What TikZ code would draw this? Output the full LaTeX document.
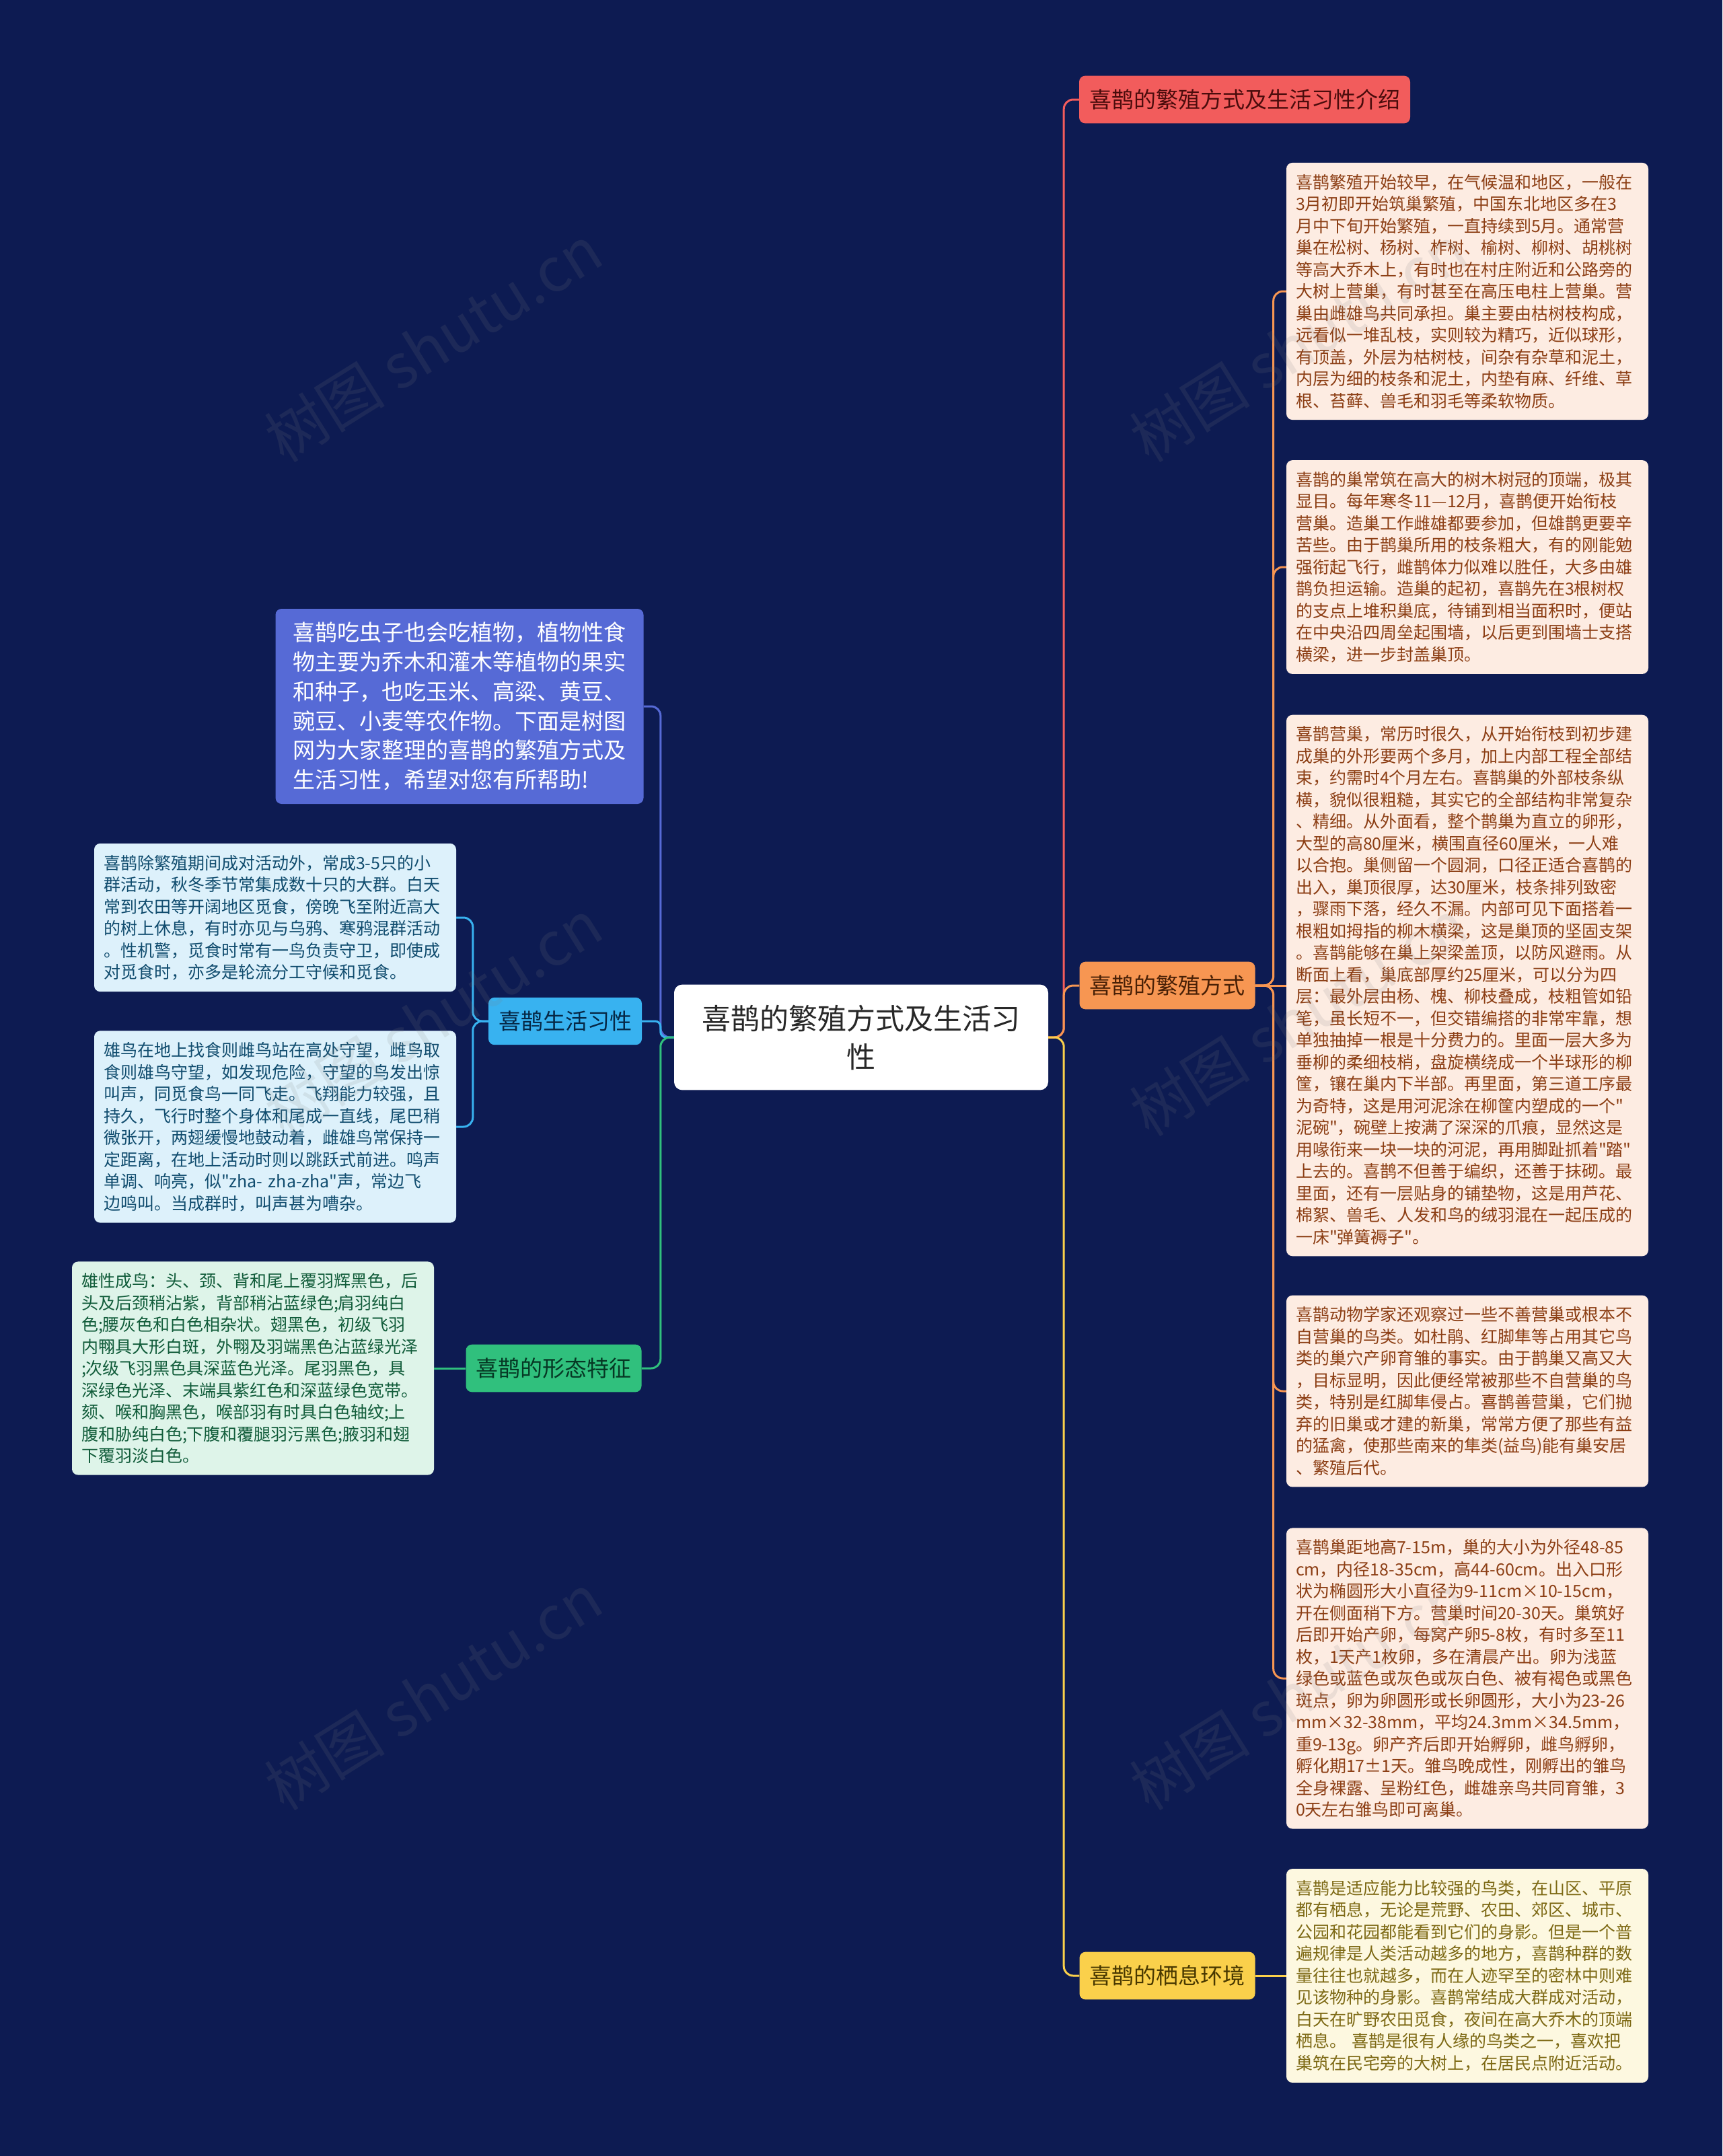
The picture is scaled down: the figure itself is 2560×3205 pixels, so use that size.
\documentclass[tikz,border=0pt]{standalone}
\usepackage{tikz}
\usepackage{fontspec}
\setmainfont{Noto Sans CJK SC}[Ligatures=TeXOff]
\definecolor{bgnavy}{RGB}{13,27,82}
\definecolor{rootink}{RGB}{40,40,40}
\definecolor{cRed}{RGB}{242,92,92}
\definecolor{cRedInk}{RGB}{75,12,12}
\definecolor{cOrange}{RGB}{247,150,82}
\definecolor{cOrangeInk}{RGB}{72,32,6}
\definecolor{cYellow}{RGB}{250,208,75}
\definecolor{cYellowInk}{RGB}{72,56,0}
\definecolor{cSky}{RGB}{56,178,240}
\definecolor{cSkyInk}{RGB}{6,40,70}
\definecolor{cGreen}{RGB}{48,192,125}
\definecolor{cGreenInk}{RGB}{6,56,36}
\definecolor{cIndigo}{RGB}{86,106,214}
\definecolor{breedFill}{RGB}{253,236,226}
\definecolor{breedInk}{RGB}{140,62,20}
\definecolor{habitatFill}{RGB}{253,248,224}
\definecolor{habitatInk}{RGB}{125,105,20}
\definecolor{lifeFill}{RGB}{221,241,251}
\definecolor{lifeInk}{RGB}{16,76,110}
\definecolor{shapeFill}{RGB}{222,244,233}
\definecolor{shapeInk}{RGB}{17,92,58}
\begin{document}
\begin{tikzpicture}[x=1pt, y=-1pt,
  root/.style={fill=white, rounded corners=12pt, align=center, text width=476pt, inner xsep=40pt, inner ysep=30pt, text=rootink, font=\fontsize{43pt}{57pt}\selectfont},
  topic/.style={rounded corners=9pt, inner xsep=15pt, inner ysep=20pt, font=\fontsize{33pt}{40pt}\selectfont},
  note/.style={rounded corners=9pt, align=left, text width=510pt, inner xsep=14pt, inner ysep=17pt, font=\fontsize{25pt}{32.5pt}\selectfont},
  link/.style={line width=3pt, rounded corners=14pt},
  wm/.style={text=gray, opacity=0.14, rotate=32, font=\fontsize{90pt}{90pt}\selectfont}
]
\fill[bgnavy] (0,0) rectangle (2560,3205);

\node[root] (root) at (1280,1542) {喜鹊的繁殖方式及生活习\\性};

\node[topic, fill=cRed, text=cRedInk] (intro) at (1850,148) {喜鹊的繁殖方式及生活习性介绍};
\node[topic, fill=cOrange, text=cOrangeInk] (breed) at (1735,1465) {喜鹊的繁殖方式};
\node[topic, fill=cYellow, text=cYellowInk] (habitat) at (1735,2937) {喜鹊的栖息环境};
\node[topic, fill=cSky, text=cSkyInk] (life) at (840,1518) {喜鹊生活习性};
\node[topic, fill=cGreen, text=cGreenInk] (shape) at (823,2034) {喜鹊的形态特征};

\node[rounded corners=9pt, fill=cIndigo, text=white, align=left, text width=495pt, inner xsep=26pt, inner ysep=20pt, font=\fontsize{33pt}{43.7pt}\selectfont] (summary) at (683,1050) {喜鹊吃虫子也会吃植物，植物性食\\物主要为乔木和灌木等植物的果实\\和种子，也吃玉米、高粱、黄豆、\\豌豆、小麦等农作物。下面是树图\\网为大家整理的喜鹊的繁殖方式及\\生活习性，希望对您有所帮助!};

\node[note, fill=breedFill, text=breedInk] (breed1) at (2181,433) {喜鹊繁殖开始较早，在气候温和地区，一般在\\3月初即开始筑巢繁殖，中国东北地区多在3\\月中下旬开始繁殖，一直持续到5月。通常营\\巢在松树、杨树、柞树、榆树、柳树、胡桃树\\等高大乔木上，有时也在村庄附近和公路旁的\\大树上营巢，有时甚至在高压电柱上营巢。营\\巢由雌雄鸟共同承担。巢主要由枯树枝构成，\\远看似一堆乱枝，实则较为精巧，近似球形，\\有顶盖，外层为枯树枝，间杂有杂草和泥土，\\内层为细的枝条和泥土，内垫有麻、纤维、草\\根、苔藓、兽毛和羽毛等柔软物质。};
\node[note, fill=breedFill, text=breedInk] (breed2) at (2181,843) {喜鹊的巢常筑在高大的树木树冠的顶端，极其\\显目。每年寒冬11—12月，喜鹊便开始衔枝\\营巢。造巢工作雌雄都要参加，但雄鹊更要辛\\苦些。由于鹊巢所用的枝条粗大，有的刚能勉\\强衔起飞行，雌鹊体力似难以胜任，大多由雄\\鹊负担运输。造巢的起初，喜鹊先在3根树权\\的支点上堆积巢底，待铺到相当面积时，便站\\在中央沿四周垒起围墙，以后更到围墙士支搭\\横梁，进一步封盖巢顶。};
\node[note, fill=breedFill, text=breedInk] (breed3) at (2181,1465) {喜鹊营巢，常历时很久，从开始衔枝到初步建\\成巢的外形要两个多月，加上内部工程全部结\\束，约需时4个月左右。喜鹊巢的外部枝条纵\\横，貌似很粗糙，其实它的全部结构非常复杂\\、精细。从外面看，整个鹊巢为直立的卵形，\\大型的高80厘米，横围直径60厘米，一人难\\以合抱。巢侧留一个圆洞，口径正适合喜鹊的\\出入，巢顶很厚，达30厘米，枝条排列致密\\，骤雨下落，经久不漏。内部可见下面搭着一\\根粗如拇指的柳木横梁，这是巢顶的坚固支架\\。喜鹊能够在巢上架梁盖顶，以防风避雨。从\\断面上看，巢底部厚约25厘米，可以分为四\\层：最外层由杨、槐、柳枝叠成，枝粗管如铅\\笔，虽长短不一，但交错编搭的非常牢靠，想\\单独抽掉一根是十分费力的。里面一层大多为\\垂柳的柔细枝梢，盘旋横绕成一个半球形的柳\\筐，镶在巢内下半部。再里面，第三道工序最\\为奇特，这是用河泥涂在柳筐内塑成的一个"\\泥碗"，碗壁上按满了深深的爪痕，显然这是\\用喙衔来一块一块的河泥，再用脚趾抓着"踏"\\上去的。喜鹊不但善于编织，还善于抹砌。最\\里面，还有一层贴身的铺垫物，这是用芦花、\\棉絮、兽毛、人发和鸟的绒羽混在一起压成的\\一床"弹簧褥子"。};
\node[note, fill=breedFill, text=breedInk] (breed4) at (2181,2068) {喜鹊动物学家还观察过一些不善营巢或根本不\\自营巢的鸟类。如杜鹃、红脚隼等占用其它鸟\\类的巢穴产卵育雏的事实。由于鹊巢又高又大\\，目标显明，因此便经常被那些不自营巢的鸟\\类，特别是红脚隼侵占。喜鹊善营巢，它们抛\\弃的旧巢或才建的新巢，常常方便了那些有益\\的猛禽，使那些南来的隼类(益鸟)能有巢安居\\、繁殖后代。};
\node[note, fill=breedFill, text=breedInk] (breed5) at (2181,2495) {喜鹊巢距地高7-15m，巢的大小为外径48-85\\cm，内径18-35cm，高44-60cm。出入口形\\状为椭圆形大小直径为9-11cm×10-15cm，\\开在侧面稍下方。营巢时间20-30天。巢筑好\\后即开始产卵，每窝产卵5-8枚，有时多至11\\枚，1天产1枚卵，多在清晨产出。卵为浅蓝\\绿色或蓝色或灰色或灰白色、被有褐色或黑色\\斑点，卵为卵圆形或长卵圆形，大小为23-26\\mm×32-38mm，平均24.3mm×34.5mm，\\重9-13g。卵产齐后即开始孵卵，雌鸟孵卵，\\孵化期17±1天。雏鸟晚成性，刚孵出的雏鸟\\全身裸露、呈粉红色，雌雄亲鸟共同育雏，3\\0天左右雏鸟即可离巢。};
\node[note, fill=habitatFill, text=habitatInk] (habitat1) at (2181,2937) {喜鹊是适应能力比较强的鸟类，在山区、平原\\都有栖息，无论是荒野、农田、郊区、城市、\\公园和花园都能看到它们的身影。但是一个普\\遍规律是人类活动越多的地方，喜鹊种群的数\\量往往也就越多，而在人迹罕至的密林中则难\\见该物种的身影。喜鹊常结成大群成对活动，\\白天在旷野农田觅食，夜间在高大乔木的顶端\\栖息。 喜鹊是很有人缘的鸟类之一，喜欢把\\巢筑在民宅旁的大树上，在居民点附近活动。};

\node[note, fill=lifeFill, text=lifeInk] (life1) at (409,1364) {喜鹊除繁殖期间成对活动外，常成3-5只的小\\群活动，秋冬季节常集成数十只的大群。白天\\常到农田等开阔地区觅食，傍晚飞至附近高大\\的树上休息，有时亦见与乌鸦、寒鸦混群活动\\。性机警，觅食时常有一鸟负责守卫，即使成\\对觅食时，亦多是轮流分工守候和觅食。};
\node[note, fill=lifeFill, text=lifeInk] (life2) at (409,1675) {雄鸟在地上找食则雌鸟站在高处守望，雌鸟取\\食则雄鸟守望，如发现危险，守望的鸟发出惊\\叫声，同觅食鸟一同飞走。飞翔能力较强，且\\持久，飞行时整个身体和尾成一直线，尾巴稍\\微张开，两翅缓慢地鼓动着，雌雄鸟常保持一\\定距离，在地上活动时则以跳跃式前进。鸣声\\单调、响亮，似"zha- zha-zha"声，常边飞\\边鸣叫。当成群时，叫声甚为嘈杂。};
\node[note, fill=shapeFill, text=shapeInk] (shape1) at (376,2034) {雄性成鸟：头、颈、背和尾上覆羽辉黑色，后\\头及后颈稍沾紫，背部稍沾蓝绿色;肩羽纯白\\色;腰灰色和白色相杂状。翅黑色，初级飞羽\\内翈具大形白斑，外翈及羽端黑色沾蓝绿光泽\\;次级飞羽黑色具深蓝色光泽。尾羽黑色，具\\深绿色光泽、末端具紫红色和深蓝绿色宽带。\\颏、喉和胸黑色，喉部羽有时具白色轴纹;上\\腹和胁纯白色;下腹和覆腿羽污黑色;腋羽和翅\\下覆羽淡白色。};

\draw[link, cRed] (root.east) -- ++(23,0) |- (intro.west);
\draw[link, cOrange] (root.east) -- ++(23,0) |- (breed.west);
\draw[link, cYellow] (root.east) -- ++(23,0) |- (habitat.west);
\draw[link, cIndigo] (root.west) -- ++(-20,0) |- (summary.east);
\draw[link, cSky, rounded corners=8pt] (root.west) -- ++(-20,0) |- (life.east);
\draw[link, cGreen] (root.west) -- ++(-20,0) |- (shape.east);

\draw[link, cOrange] (breed.east) -- ++(27,0) |- (breed1.west);
\draw[link, cOrange] (breed.east) -- ++(27,0) |- (breed2.west);
\draw[link, cOrange] (breed.east) -- (breed3.west);
\draw[link, cOrange] (breed.east) -- ++(27,0) |- (breed4.west);
\draw[link, cOrange] (breed.east) -- ++(27,0) |- (breed5.west);
\draw[link, cYellow] (habitat.east) -- (habitat1.west);
\draw[link, cSky] (life.west) -- ++(-23,0) |- (life1.east);
\draw[link, cSky] (life.west) -- ++(-23,0) |- (life2.east);
\draw[link, cGreen] (shape.west) -- (shape1.east);

\node[wm] (wm1) at (644,511) {树图 shutu.cn};
\node[wm] (wm2) at (644,1513) {树图 shutu.cn};
\node[wm] (wm3) at (644,2515) {树图 shutu.cn};
\node[wm] (wm4) at (1930,511) {树图 shutu.cn};
\node[wm] (wm5) at (1930,1513) {树图 shutu.cn};
\node[wm] (wm6) at (1930,2515) {树图 shutu.cn};
\end{tikzpicture}
\end{document}
